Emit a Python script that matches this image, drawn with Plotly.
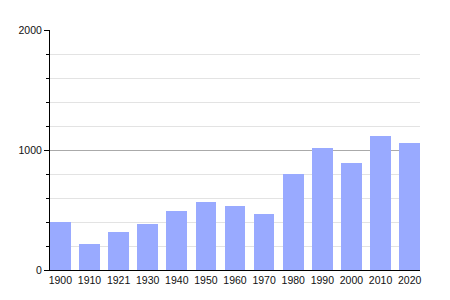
import plotly.graph_objects as go

years = ["1900", "1910", "1921", "1930", "1940", "1950", "1960", "1970",
         "1980", "1990", "2000", "2010", "2020"]
population = [400, 217, 317, 380, 494, 567, 533, 467, 800, 1017, 892, 1117, 1058]

positions = list(range(len(years)))
bar_width = 0.712

fig = go.Figure(go.Bar(
    x=positions, y=population, width=bar_width,
    marker=dict(color="#99aaff", line=dict(width=0)),
    hoverinfo="x+y",
))

fig.update_layout(
    width=450, height=300,
    margin=dict(l=50, r=30, t=30, b=30),
    paper_bgcolor="white", plot_bgcolor="white",
    font=dict(family="Liberation Sans, Arial, sans-serif", size=10, color="#111"),
    showlegend=False,
    bargap=0,
)

fig.update_xaxes(
    range=[-bar_width / 2, len(years) - 1 + bar_width / 2],
    tickvals=positions, ticktext=years,
    showgrid=False, ticks="", showline=True, linecolor="black", linewidth=1,
    zeroline=False, tickfont=dict(size=10.5),
)

fig.update_yaxes(
    range=[0, 2000],
    tickvals=[0, 1000, 2000],
    showgrid=True, gridcolor="#aaaaaa", gridwidth=1,
    ticks="outside", ticklen=5, tickcolor="black", tickwidth=1,
    showline=True, linecolor="black", linewidth=1,
    zeroline=False, tickfont=dict(size=10.5),
    minor=dict(dtick=200, tick0=0, showgrid=True, gridcolor="#e3e3e3",
               ticks="outside", ticklen=3, tickcolor="black"),
)

fig.write_html("out.html")
